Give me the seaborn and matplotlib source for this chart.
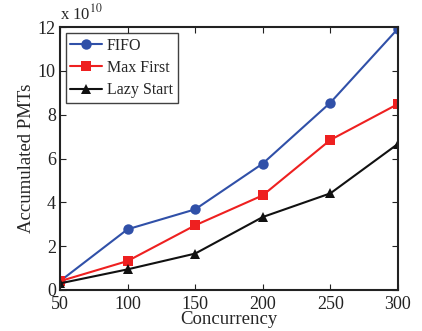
import matplotlib
matplotlib.use("Agg")
import matplotlib.pyplot as plt
import seaborn as sns
import pandas as pd

concurrency = [50, 100, 150, 200, 250, 300]
fifo = [0.40, 2.77, 3.68, 5.77, 8.55, 11.93]
max_first = [0.40, 1.32, 2.95, 4.32, 6.85, 8.49]
lazy_start = [0.30, 0.94, 1.66, 3.33, 4.41, 6.67]
series_names = ["FIFO", "Max First", "Lazy Start"]
colors = ["#3050A8", "#EE2020", "#111111"]
markers = ["o", "s", "^"]

rows = []
for name, vals in zip(series_names, [fifo, max_first, lazy_start]):
    for x, v in zip(concurrency, vals):
        rows.append({"Concurrency": x, "PMT": v * 1e10, "Policy": name})
df = pd.DataFrame(rows)

sns.set_style("ticks")
plt.rcParams['font.family'] = ['Liberation Serif', 'DejaVu Serif']
plt.rcParams['mathtext.fontset'] = 'stix'

fig = plt.figure(figsize=(4.22, 3.31), dpi=100)
ax = fig.add_axes([0.142, 0.124, 0.801, 0.794])

sns.lineplot(data=df, x="Concurrency", y="PMT", hue="Policy", style="Policy",
             hue_order=series_names, style_order=series_names,
             palette=colors, markers=markers, dashes=False,
             markersize=7.5, linewidth=1.5, markeredgewidth=0, ax=ax)

ax.set_xlim(50, 300)
ax.set_ylim(0, 12e10)
ax.set_xticks(concurrency)
ax.set_xticklabels([str(c) for c in concurrency])
ax.set_yticks([v * 1e10 for v in [0, 2, 4, 6, 8, 10, 12]])
ax.set_yticklabels(["0", "2", "4", "6", "8", "10", "12"])
ax.tick_params(direction="in", top=True, right=True, labelsize=13, length=4,
               width=0.8, colors="#222222", labelcolor="#222222", pad=3)
ax.tick_params(axis="x", pad=4)
for s in ax.spines.values():
    s.set_linewidth(1.5)
    s.set_color("#222222")
    s.set_visible(True)
ax.set_xlabel("Concurrency", fontsize=13.5, labelpad=-1)
ax.set_ylabel("Accumulated PMTs", fontsize=13.5, labelpad=2)
ax.text(0.0, 1.015, r"x 10$^{10}$", transform=ax.transAxes, fontsize=12,
        ha="left", va="bottom")

leg = ax.legend(loc="upper left", fontsize=11.5, frameon=True, fancybox=False,
                edgecolor="#111111", borderpad=0.3, handlelength=2.0,
                labelspacing=0.4, handletextpad=0.3, borderaxespad=0.35)
leg.get_frame().set_linewidth(1.0)
leg.set_title(None)

fig.savefig("out.png", dpi=100)
